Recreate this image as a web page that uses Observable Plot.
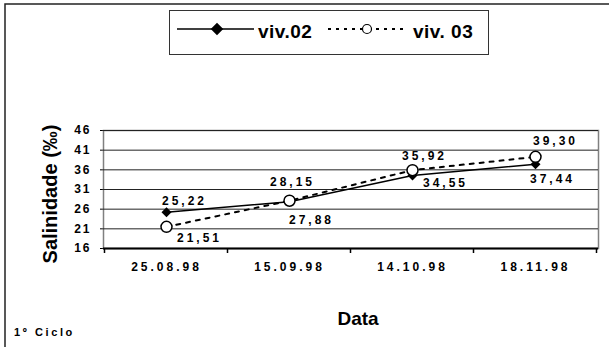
<!DOCTYPE html>
<html>
<head>
<meta charset="utf-8">
<script src="https://cdn.jsdelivr.net/npm/d3@7"></script>
<script src="https://cdn.jsdelivr.net/npm/@observablehq/plot@0.6"></script>
<style>
  body { margin: 0; background: #fff; }
  svg { display: block; }
  g[aria-description="value-label"] text,
  g[aria-description="x-label"] text { letter-spacing: 3px; }
  g[aria-description="y-label"] text { letter-spacing: 2px; }
</style>
</head>
<body>
<div id="chart"></div>
<script>
// Sampling dates (1st cycle) and salinity readings per tank
const dates = ["25.08.98", "15.09.98", "14.10.98", "18.11.98"];
const viv02 = [25.22, 27.88, 34.55, 37.44];
const viv03 = [21.51, 28.15, 35.92, 39.30];
const yTicks = [16, 21, 26, 31, 36, 41, 46];
const seriesNames = ["viv.02", "viv. 03"];

// where each value label sits relative to its marker: [dx, dy]
const place02 = [[18, -11], [22, 18], [33, 8], [17, 15]];
const place03 = [[33, 11], [3, -19], [12, -14], [20, -16]];

const font = "'Liberation Sans', Arial, Helvetica, sans-serif";
const fmt = v => v.toFixed(2).replace(".", ",");

const rows02 = dates.map((d, i) => ({date: d, value: viv02[i]}));
const rows03 = dates.map((d, i) => ({date: d, value: viv03[i]}));

const valueLabels = (rows, place) => rows.map((r, i) =>
  Plot.text([r], {
    x: "date", y: "value", text: d => fmt(d.value),
    dx: place[i][0], dy: place[i][1],
    fontSize: 12, fontWeight: "bold", fill: "black",
    ariaDescription: "value-label"
  }));

const chart = Plot.plot({
  width: 609,
  height: 347,
  marginLeft: 103,
  marginRight: 11,
  marginTop: 130,
  marginBottom: 99,
  style: {fontFamily: font, background: "white", color: "black", overflow: "visible"},
  x: {type: "point", domain: dates, padding: 0.5, axis: null},
  y: {domain: [16, 46], ticks: yTicks, tickSize: 3, tickFormat: () => "", line: true, label: null},
  marks: [
    Plot.frame({stroke: "#808080", strokeWidth: 1.5}),
    Plot.ruleY(yTicks.slice(1), {stroke: "#222", strokeWidth: 1}),
    Plot.ruleY([16], {stroke: "black", strokeWidth: 2}),
    Plot.text(yTicks, {
      y: d => d, text: d => String(d), frameAnchor: "left", textAnchor: "end", dx: -12,
      fontSize: 12, fontWeight: "bold", ariaDescription: "y-label"
    }),
    Plot.text(dates, {
      x: d => d, text: d => d, frameAnchor: "bottom", dy: 22,
      fontSize: 12, fontWeight: "bold", ariaDescription: "x-label"
    }),
    Plot.line(rows02, {x: "date", y: "value", stroke: "black", strokeWidth: 1.5}),
    Plot.line(rows03, {x: "date", y: "value", stroke: "black", strokeWidth: 2, strokeDasharray: "4,6"}),
    Plot.dot(rows02, {x: "date", y: "value", symbol: "diamond2", r: 4.5, fill: "black", stroke: "none"}),
    Plot.dot(rows03, {x: "date", y: "value", r: 5.5, fill: "white", stroke: "black", strokeWidth: 1.5}),
    ...valueLabels(rows02, place02),
    ...valueLabels(rows03, place03)
  ]
});

const svg = d3.select(chart);

// category separators on the date axis
const xs = chart.scale("x");
const centers = dates.map(d => xs.apply(d));
const step = centers[1] - centers[0];
const bounds = [centers[0] - step / 2, ...centers.map(c => c + step / 2)];
const yBottom = chart.scale("y").apply(16);
svg.append("g").selectAll("line").data(bounds).join("line")
  .attr("x1", d => d).attr("x2", d => d)
  .attr("y1", yBottom).attr("y2", yBottom + 5)
  .attr("stroke", "black").attr("stroke-width", 1.5);

// chart area border
svg.insert("rect", ":first-child")
  .attr("x", 5).attr("y", 4).attr("width", 640).attr("height", 400)
  .attr("fill", "none").attr("stroke", "#222").attr("stroke-width", 1.5);

// axis titles and cycle note
svg.append("text")
  .attr("transform", "translate(57,194) rotate(-90)")
  .attr("text-anchor", "middle")
  .attr("font-family", font).attr("font-size", 20).attr("font-weight", "bold")
  .text("Salinidade (‰)");
svg.append("text")
  .attr("x", 358).attr("y", 325).attr("text-anchor", "middle")
  .attr("font-family", font).attr("font-size", 19).attr("font-weight", "bold")
  .text("Data");
svg.append("text")
  .attr("x", 14).attr("y", 336).attr("text-anchor", "start")
  .attr("font-family", font).attr("font-size", 11).attr("font-weight", "bold")
  .style("letter-spacing", "2.6px")
  .text("1º Ciclo");

// legend
const lg = svg.append("g").attr("font-family", font).attr("font-size", 19)
  .attr("font-weight", "bold").attr("text-anchor", "start");
lg.append("rect").attr("x", 169.5).attr("y", 10.5).attr("width", 319).attr("height", 44)
  .attr("fill", "white").attr("stroke", "#333").attr("stroke-width", 1);
lg.append("line").attr("x1", 177).attr("x2", 254).attr("y1", 29).attr("y2", 29)
  .attr("stroke", "black").attr("stroke-width", 1.5);
lg.append("path").attr("d", d3.symbol(d3.symbolDiamond2, 100)()).attr("transform", "translate(217,29)")
  .attr("fill", "black");
lg.append("text").attr("x", 258).attr("y", 38).style("letter-spacing", "0.5px").text(seriesNames[0]);
lg.append("line").attr("x1", 328).attr("x2", 404).attr("y1", 29).attr("y2", 29)
  .attr("stroke", "black").attr("stroke-width", 2).attr("stroke-dasharray", "3,5");
lg.append("circle").attr("cx", 367).attr("cy", 29).attr("r", 4.5)
  .attr("fill", "white").attr("stroke", "black").attr("stroke-width", 1.2);
lg.append("text").attr("x", 413).attr("y", 38).style("letter-spacing", "0.5px").text(seriesNames[1]);

document.getElementById("chart").append(chart);
</script>
</body>
</html>
